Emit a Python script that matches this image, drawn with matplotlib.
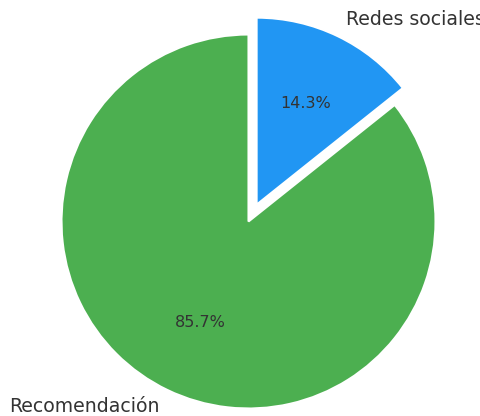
import matplotlib
matplotlib.use("Agg")
import matplotlib.pyplot as plt

labels = ["Redes sociales", "Recomendación"]
values = [1, 6]
colors = ["#2196F3", "#4CAF50"]
explode = [0.1, 0.0]

fig = plt.figure(figsize=(4.8, 4.16), dpi=100)
r_px = 187
cx, cy = 248.5, 221.5
ax = fig.add_axes([(cx - r_px) / 480, (416 - cy - r_px) / 416,
                   2 * r_px / 480, 2 * r_px / 416])

wedges, texts, autotexts = ax.pie(
    values, labels=labels, colors=colors, explode=explode,
    autopct="%1.1f%%", startangle=90, counterclock=False,
    labeldistance=1.1, pctdistance=0.6,
    wedgeprops=dict(edgecolor="white", linewidth=1.5),
    textprops=dict(color="#333333"),
)
for t in texts:
    t.set_fontsize(13.6)
for t in autotexts:
    t.set_fontsize(11.5)

ax.set_xlim(-1, 1)
ax.set_ylim(-1, 1)
ax.set_aspect("auto")
ax.axis("off")

fig.savefig("out.png", dpi=100)
